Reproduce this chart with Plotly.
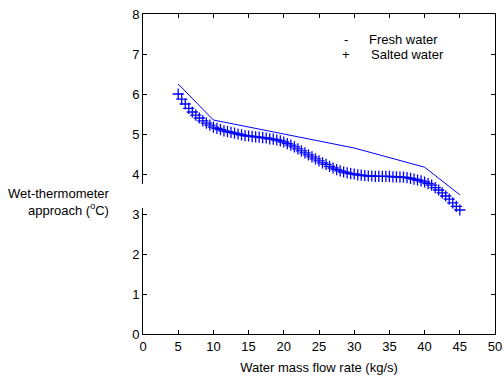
import plotly.graph_objects as go

# Fresh water: piecewise approach curve
fresh_flow = [5, 10, 20, 30, 40, 45]
fresh_approach = [6.25, 5.35, 5.00, 4.65, 4.17, 3.48]

# Salted water: sampled every 0.5 kg/s
salted_flow = [
    5.0, 5.5, 6.0, 6.5, 7.0, 7.5, 8.0, 8.5, 9.0, 9.5,
    10.0, 10.5, 11.0, 11.5, 12.0, 12.5, 13.0, 13.5, 14.0, 14.5,
    15.0, 15.5, 16.0, 16.5, 17.0, 17.5, 18.0, 18.5, 19.0, 19.5,
    20.0, 20.5, 21.0, 21.5, 22.0, 22.5, 23.0, 23.5, 24.0, 24.5,
    25.0, 25.5, 26.0, 26.5, 27.0, 27.5, 28.0, 28.5, 29.0, 29.5,
    30.0, 30.5, 31.0, 31.5, 32.0, 32.5, 33.0, 33.5, 34.0, 34.5,
    35.0, 35.5, 36.0, 36.5, 37.0, 37.5, 38.0, 38.5, 39.0, 39.5,
    40.0, 40.5, 41.0, 41.5, 42.0, 42.5, 43.0, 43.5, 44.0, 44.5,
    45.0,
]
salted_approach = [
    6.00, 5.87, 5.75, 5.64, 5.55, 5.47, 5.40, 5.33, 5.27, 5.22,
    5.17, 5.14, 5.11, 5.08, 5.06, 5.04, 5.02, 5.00, 4.98, 4.96,
    4.95, 4.94, 4.93, 4.92, 4.91, 4.90, 4.88, 4.87, 4.85, 4.83,
    4.80, 4.76, 4.72, 4.68, 4.63, 4.58, 4.53, 4.48, 4.43, 4.38,
    4.33, 4.28, 4.24, 4.19, 4.15, 4.11, 4.08, 4.05, 4.03, 4.01,
    4.00, 3.98, 3.97, 3.96, 3.95, 3.95, 3.94, 3.94, 3.94, 3.94,
    3.94, 3.93, 3.93, 3.92, 3.92, 3.91, 3.89, 3.87, 3.85, 3.83,
    3.80, 3.76, 3.72, 3.66, 3.60, 3.53, 3.45, 3.37, 3.28, 3.19,
    3.10,
]

x_ticks = [0, 5, 10, 15, 20, 25, 30, 35, 40, 45, 50]
y_ticks = [0, 1, 2, 3, 4, 5, 6, 7, 8]

FONT = "Liberation Sans, Arial, sans-serif"
BLUE = "#0000ff"
SIZE = 13

fig = go.Figure()
fig.add_trace(go.Scatter(
    x=fresh_flow, y=fresh_approach, mode="lines",
    line=dict(color=BLUE, width=1), name="Fresh water",
))
fig.add_trace(go.Scatter(
    x=salted_flow, y=salted_approach, mode="markers",
    marker=dict(symbol="cross-thin-open", size=8, color=BLUE,
                line=dict(color=BLUE, width=1.3)),
    name="Salted water",
))

axis_common = dict(
    showline=True, linecolor="black", linewidth=1, mirror="ticks",
    ticks="inside", ticklen=4, tickcolor="black", tickwidth=1,
    showgrid=False, zeroline=False, automargin=False,
    tickfont=dict(family=FONT, size=SIZE, color="black"),
)

fig.update_layout(
    width=504, height=378,
    margin=dict(l=143, r=9, t=14, b=44, autoexpand=False),
    paper_bgcolor="white", plot_bgcolor="white",
    showlegend=False,
    xaxis=dict(range=[0, 50], tickvals=x_ticks, **axis_common,
               title=dict(text="Water mass flow rate (kg/s)",
                          font=dict(family=FONT, size=SIZE, color="black"),
                          standoff=10)),
    yaxis=dict(range=[0, 8], tickvals=y_ticks, **axis_common),
    font=dict(family=FONT, size=SIZE, color="black"),
)

# y-axis label box (horizontal, with a white background over the axis line)
fig.add_shape(type="rect", xref="paper", yref="paper",
              x0=-0.016, x1=0.006, y0=0.394, y1=0.469,
              fillcolor="white", line=dict(width=0), layer="above")
fig.add_annotation(
    xref="paper", yref="paper", x=-0.088, y=0.4125,
    text="Wet-thermometer<br>approach (<sup>o</sup>C)",
    showarrow=False, align="right", xanchor="right", yanchor="middle",
    font=dict(family=FONT, size=SIZE, color="black"),
)

# legend entries written as text rows
legend_rows = [("-", "Fresh water", 0.919, 0.636), ("+", "Salted water", 0.872, 0.643)]
for sym, label, yp, xp in legend_rows:
    fig.add_annotation(xref="paper", yref="paper", x=0.577, y=yp, text=sym,
                       showarrow=False, xanchor="center", yanchor="middle",
                       font=dict(family=FONT, size=SIZE, color="black"))
    fig.add_annotation(xref="paper", yref="paper", x=xp, y=yp, text=label,
                       showarrow=False, xanchor="left", yanchor="middle",
                       font=dict(family=FONT, size=SIZE, color="black"))

fig.write_html("out.html")
